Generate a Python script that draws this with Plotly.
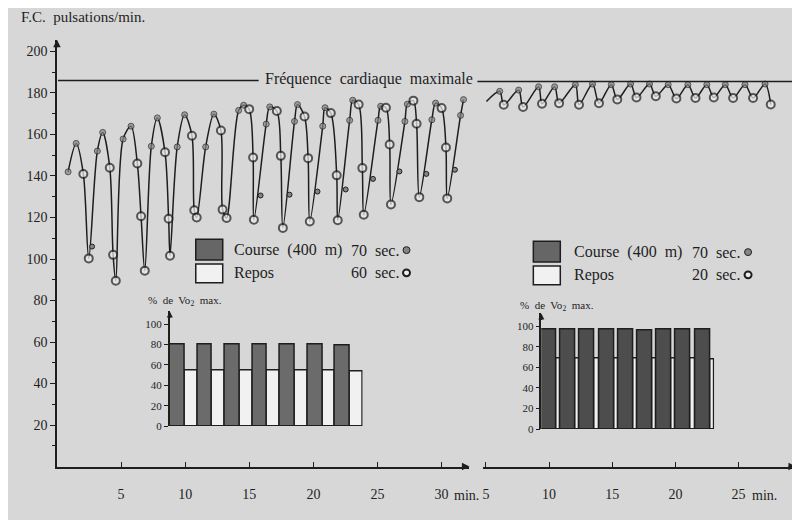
import plotly.graph_objects as go

FONT = "Liberation Serif"
INK = "#1e1e1e"
BG = "#d7d7d7"
# the page body keeps an 8 px white margin round the figure
OFF = 8
W, H = 800 - OFF, 520 - OFF

HR_MAX = 186

# --- left panel: 400 m en 70 sec, repos 60 sec (minutes, pulsations/min) ---
left_t = [0.87, 1.50, 2.06, 2.48,
          3.15, 3.57, 4.12, 4.38, 4.59,
          5.16, 5.78, 6.27, 6.56, 6.85,
          7.36, 7.83, 8.43, 8.71, 8.82,
          9.38, 9.96, 10.53, 10.71, 10.90,
          11.60, 12.24, 12.79, 12.92, 13.23,
          14.17, 14.56, 14.99, 15.30, 15.36,
          16.32, 16.60, 17.15, 17.46, 17.62,
          18.53, 18.76, 19.31, 19.59, 19.72,
          20.73, 20.91, 21.36, 21.82, 21.90,
          22.83, 23.07, 23.53, 23.82, 23.93,
          25.04, 25.25, 25.66, 25.95, 26.05,
          27.14, 27.33, 27.80, 28.05, 28.26,
          29.24, 29.53, 30.00, 30.34, 30.44,
          31.48, 31.71]
left_hr = [142, 155.7, 141, 100.3,
           152, 161, 144, 102, 89.5,
           157.8, 164, 146, 120.6, 94.4,
           154.3, 168, 151.4, 119.4, 101.6,
           154, 169.5, 159.4, 123.5, 120,
           154, 169.8, 161.9, 123.8, 119.8,
           171.6, 174.1, 172.2, 148.9, 118.9,
           165, 173.3, 171.3, 149.7, 115,
           166.3, 174.4, 168.7, 148.6, 118.1,
           164, 172.9, 170.3, 140.3, 118.7,
           166.8, 176.5, 174.4, 143.8, 121.3,
           166.8, 173.6, 172.9, 155.2, 126.3,
           166.3, 174.6, 176.3, 165.2, 129.8,
           167.1, 175.1, 172.7, 153.7, 129.2,
           169.2, 176.8]
left_kind = ["C", "C", "R", "R",
             "C", "C", "R", "R", "R",
             "C", "C", "R", "R", "R",
             "C", "C", "R", "R", "R",
             "C", "C", "R", "R", "R",
             "C", "C", "R", "R", "R",
             "C", "C", "R", "R", "R",
             "C", "C", "R", "R", "R",
             "C", "C", "R", "R", "R",
             "C", "C", "R", "R", "R",
             "C", "C", "R", "R", "R",
             "C", "C", "R", "R", "R",
             "C", "C", "R", "R", "R",
             "C", "C", "R", "R", "R",
             "C", "C"]

# isolated measurements next to the curve
left_extra_t = [2.74, 15.88, 18.14, 20.32, 22.52, 24.65, 26.71, 28.81, 31.04]
left_extra_hr = [106, 130.6, 131, 132.5, 133.5, 138.6, 142.2, 141, 143]

# --- right panel: 400 m en 70 sec, repos 20 sec ---
right_t = [5.04, 6.09, 6.41, 7.59, 7.94, 9.17, 9.44, 10.44, 10.79, 12.08, 12.37,
           13.44, 13.95, 14.92, 15.40, 16.45, 16.92, 17.95, 18.45, 19.43, 20.08,
           20.99, 21.59, 22.49, 23.04, 23.95, 24.57, 25.51, 26.15, 27.10, 27.55]
right_hr = [175.9, 180.8, 174.3, 181.4, 173.2, 183, 174.8, 183, 175.1, 184, 174.3,
            184.3, 175.1, 184, 176.9, 184.3, 177.8, 184.3, 178.4, 184, 177.3,
            184, 177.6, 184, 177.8, 184, 177.6, 184, 177.6, 184.3, 174.4]
right_kind = ["N"] + ["C", "R"] * 15

# --- % de VO2 max insets ---
left_course_sec, left_rest_sec = 70, 60
left_course_vo2 = [80, 80, 80, 80, 80, 80, 79]
left_rest_vo2 = [55, 55, 55, 55, 55, 55, 54]

right_course_sec, right_rest_sec = 70, 20
right_course_vo2 = [97, 97, 97, 97, 97, 96, 97, 97, 97]
right_rest_vo2 = [69, 69, 69, 69, 69, 69, 69, 69, 68]


def px(x):
    return (x - OFF) / W


def py(y):
    return 1 - (y - OFF) / H


MK_COLOR = {"C": "#858585", "R": "#ececec", "N": "rgba(0,0,0,0)"}
MK_SIZE = {"C": 6, "R": 8, "N": 0}
MK_LINE = {"C": 1, "R": 2, "N": 0}

fig = go.Figure()


def hr_trace(t, hr, kind, xaxis):
    return go.Scatter(
        x=t, y=hr, xaxis=xaxis, yaxis="y",
        mode="lines+markers",
        line=dict(color=INK, width=1.5, shape="spline", smoothing=0.9),
        marker=dict(color=[MK_COLOR[k] for k in kind],
                    size=[MK_SIZE[k] for k in kind],
                    line=dict(color=INK, width=[MK_LINE[k] for k in kind])),
        showlegend=False, hoverinfo="skip")


fig.add_trace(hr_trace(left_t, left_hr, left_kind, "x"))
fig.add_trace(go.Scatter(
    x=left_extra_t, y=left_extra_hr, mode="markers",
    marker=dict(color=MK_COLOR["C"], size=5, line=dict(color=INK, width=1)),
    showlegend=False, hoverinfo="skip"))
fig.add_trace(hr_trace(right_t, right_hr, right_kind, "x2"))


def vo2_bars(course, rest, c_sec, r_sec, xaxis, yaxis, dark):
    cycle = (c_sec + r_sec) / 60
    c_start = [i * cycle for i in range(len(course))]
    r_start = [s + c_sec / 60 for s in c_start]
    common = dict(xaxis=xaxis, yaxis=yaxis, offset=0, showlegend=False,
                  hoverinfo="skip")
    fig.add_trace(go.Bar(x=r_start, y=rest, width=[r_sec / 60] * len(rest),
                         marker=dict(color="#f1f1f1", line=dict(color=INK, width=1.5)),
                         **common))
    fig.add_trace(go.Bar(x=c_start, y=course, width=[c_sec / 60] * len(course),
                         marker=dict(color=dark, line=dict(color=INK, width=1.5)),
                         **common))
    return len(course) * cycle


left_span = vo2_bars(left_course_vo2, left_rest_vo2, left_course_sec, left_rest_sec,
                     "x3", "y3", "#6b6b6b")
right_span = vo2_bars(right_course_vo2, right_rest_vo2, right_course_sec, right_rest_sec,
                      "x4", "y4", "#4d4d4d")

tick_font = dict(family=FONT, size=14, color=INK)
small_font = dict(family=FONT, size=11, color=INK)

fig.update_layout(
    width=W, height=H,
    margin=dict(l=0, r=0, t=0, b=0),
    paper_bgcolor=BG, plot_bgcolor="rgba(0,0,0,0)",
    barmode="overlay", bargap=0,
    xaxis=dict(domain=[px(56), px(469)], range=[0, 32.17], anchor="y",
               tickvals=[5, 10, 15, 20, 25, 30], ticks="inside", ticklen=5,
               tickcolor=INK, showline=True, linecolor=INK, linewidth=1.5,
               showgrid=False, zeroline=False, tickfont=tick_font,
               ticklabelstandoff=14, ticklabeloverflow="allow"),
    yaxis=dict(domain=[py(472), py(40)], range=[0, 205.7], anchor="x",
               tickvals=[20, 40, 60, 80, 100, 120, 140, 160, 180, 200],
               ticks="outside", ticklen=5, tickcolor=INK, showline=True,
               linecolor=INK, linewidth=1.5, showgrid=False, zeroline=False,
               tickfont=tick_font,
               minor=dict(tickvals=[10, 30, 50, 70, 90, 110, 130, 150, 170, 190],
                          ticks="outside", ticklen=3, tickcolor=INK, showgrid=False)),
    xaxis2=dict(domain=[px(483), px(796)], range=[4.80, 29.55], anchor="y",
                tickvals=[5, 10, 15, 20, 25], ticks="inside", ticklen=5,
                tickcolor=INK, showline=True, linecolor=INK, linewidth=1.5,
                showgrid=False, zeroline=False, tickfont=tick_font,
                ticklabelstandoff=14, ticklabeloverflow="allow"),
    xaxis3=dict(domain=[px(169), px(362)], range=[0, left_span], anchor="y3",
                visible=False),
    yaxis3=dict(domain=[py(431), py(315)], range=[0, 112.6], anchor="x3",
                tickvals=[0, 20, 40, 60, 80, 100], ticks="outside", ticklen=4,
                tickcolor=INK, showline=True, linecolor=INK, linewidth=1.5,
                showgrid=False, zeroline=False, tickfont=small_font),
    xaxis4=dict(domain=[px(541), px(714)], range=[0, right_span], anchor="y4",
                visible=False),
    yaxis4=dict(domain=[py(434), py(317)], range=[0, 112.5], anchor="x4",
                tickvals=[0, 20, 40, 60, 80, 100], ticks="outside", ticklen=4,
                tickcolor=INK, showline=True, linecolor=INK, linewidth=1.5,
                showgrid=False, zeroline=False, tickfont=small_font),
)

shapes = [
    # fréquence cardiaque maximale
    dict(type="line", xref="paper", yref="y", x0=px(57), x1=px(258),
         y0=HR_MAX, y1=HR_MAX, line=dict(color=INK, width=1.5)),
    dict(type="line", xref="paper", yref="y", x0=px(477), x1=px(792),
         y0=HR_MAX - 0.5, y1=HR_MAX - 0.5, line=dict(color=INK, width=1.5)),
]

annotations = [
    dict(text="F.C.  pulsations/min.", xref="paper", yref="paper", x=px(18), y=py(17),
         xanchor="left", yanchor="middle", showarrow=False,
         font=dict(family=FONT, size=15, color=INK)),
    dict(text="Fréquence  cardiaque  maximale", xref="paper", yref="y", x=px(368),
         y=HR_MAX, yshift=2, xanchor="center", yanchor="middle", showarrow=False,
         font=dict(family=FONT, size=16, color=INK)),
    dict(text="min.", xref="paper", yref="paper", x=px(452), y=py(501),
         xanchor="left", yanchor="middle", showarrow=False, font=tick_font),
    dict(text="min.", xref="paper", yref="paper", x=px(750), y=py(501),
         xanchor="left", yanchor="middle", showarrow=False, font=tick_font),
    # axis arrows
    dict(x=32.17, y=0, xref="x", yref="y", ax=-9, ay=0, text="", showarrow=True,
         arrowhead=2, arrowsize=1, arrowwidth=1.5, arrowcolor=INK),
    dict(x=29.55, y=0, xref="x2", yref="y", ax=-9, ay=0, text="", showarrow=True,
         arrowhead=2, arrowsize=1, arrowwidth=1.5, arrowcolor=INK),
    dict(x=0, y=205.7, xref="x", yref="y", ax=0, ay=9, text="", showarrow=True,
         arrowhead=2, arrowsize=1, arrowwidth=1.5, arrowcolor=INK),
    dict(x=0, y=112.6, xref="x3", yref="y3", ax=0, ay=8, text="", showarrow=True,
         arrowhead=2, arrowsize=0.8, arrowwidth=1.5, arrowcolor=INK),
    dict(x=0, y=112.5, xref="x4", yref="y4", ax=0, ay=8, text="", showarrow=True,
         arrowhead=2, arrowsize=0.8, arrowwidth=1.5, arrowcolor=INK),
    # inset titles
    dict(text="%  de  Vo<sub>2</sub>  max.", xref="paper", yref="paper", x=px(145),
         y=py(304), xanchor="left", yanchor="middle", showarrow=False, font=small_font),
    dict(text="%  de  Vo<sub>2</sub>  max.", xref="paper", yref="paper", x=px(518),
         y=py(310), xanchor="left", yanchor="middle", showarrow=False, font=small_font),
]


# legend blocks
def legend_block(box_x, row1_y, row2_y, text_x, sec_x, mk_x, rest_label):
    leg_font = dict(family=FONT, size=16, color=INK)
    shapes.append(dict(type="rect", xref="paper", yref="paper",
                       x0=px(box_x), x1=px(box_x + 27), y0=py(row1_y + 10), y1=py(row1_y - 11),
                       fillcolor="#666666", line=dict(color=INK, width=1.5)))
    shapes.append(dict(type="rect", xref="paper", yref="paper",
                       x0=px(box_x), x1=px(box_x + 27), y0=py(row2_y + 10), y1=py(row2_y - 9),
                       fillcolor="#f1f1f1", line=dict(color=INK, width=1.5)))
    shapes.append(dict(type="circle", xref="paper", yref="paper",
                       x0=px(mk_x - 3.5), x1=px(mk_x + 3.5), y0=py(row1_y + 3.5), y1=py(row1_y - 3.5),
                       fillcolor=MK_COLOR["C"], line=dict(color=INK, width=1)))
    shapes.append(dict(type="circle", xref="paper", yref="paper",
                       x0=px(mk_x - 3.5), x1=px(mk_x + 3.5), y0=py(row2_y + 3.5), y1=py(row2_y - 3.5),
                       fillcolor=MK_COLOR["R"], line=dict(color=INK, width=2)))
    for txt, x, y in [("Course  (400  m)", text_x, row1_y), ("Repos", text_x, row2_y),
                      ("70  sec.", sec_x, row1_y), (rest_label, sec_x, row2_y)]:
        annotations.append(dict(text=txt, xref="paper", yref="paper", x=px(x), y=py(y),
                                xanchor="left", yanchor="middle", showarrow=False,
                                font=leg_font))


legend_block(195, 253, 276, 231, 348, 406, "60  sec.")
legend_block(533, 255, 278, 572, 690, 748, "20  sec.")

fig.update_layout(shapes=shapes, annotations=annotations)

fig.write_html("out.html")
